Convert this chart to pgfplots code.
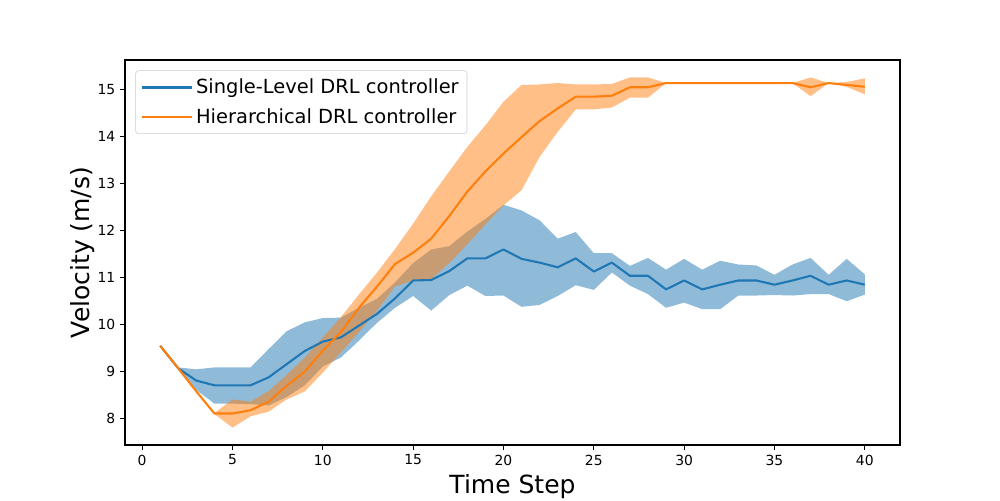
\documentclass[border=0pt]{standalone}
\usepackage{fontspec}
\setmainfont{DejaVu Sans}
\usepackage{pgfplots}
\usepackage{pgfplotstable}
\pgfplotsset{compat=1.18}
\definecolor{tabblue}{HTML}{1F77B4}
\definecolor{taborange}{HTML}{FF7F0E}
\pgfplotstableread{
t  bm    om
1  9.54  9.54
2  9.06  9.06
3  8.80  8.57
4  8.70  8.10
5  8.70  8.10
6  8.70  8.17
7  8.87  8.35
8  9.15  8.69
9  9.43  8.99
10 9.63  9.44
11 9.72  9.83
12 9.97  10.35
13 10.22 10.80
14 10.55 11.28
15 10.93 11.52
16 10.94 11.82
17 11.13 12.30
18 11.40 12.82
19 11.40 13.25
20 11.59 13.63
21 11.39 13.98
22 11.31 14.32
23 11.21 14.59
24 11.40 14.84
25 11.12 14.84
26 11.31 14.86
27 11.03 15.04
28 11.03 15.04
29 10.74 15.13
30 10.93 15.13
31 10.74 15.13
32 10.84 15.13
33 10.93 15.13
34 10.93 15.13
35 10.84 15.13
36 10.93 15.13
37 11.03 15.04
38 10.84 15.13
39 10.93 15.09
40 10.84 15.05
}\data
\begin{document}
\begin{tikzpicture}
\path[use as bounding box] (0,0) rectangle (720pt,360pt);
\begin{axis}[
  at={(90pt,39.6pt)}, anchor=south west,
  width=558pt, height=277.2pt, scale only axis,
  xmin=-0.95, xmax=41.95, ymin=7.43, ymax=15.62,
  xtick={0,5,...,40}, ytick={8,9,...,15},
  tick align=outside, tick pos=left, major tick length=3.5pt,
  every tick/.style={black, line width=0.8pt},
  axis line style={line width=0.8pt},
  tick label style={font=\fontsize{10}{12}\selectfont},
  /pgf/number format/assume math mode=true,
  xlabel={Time Step}, ylabel={Velocity (m/s)},
  label style={font=\fontsize{18}{21}\selectfont},
  ylabel style={yshift=-5pt},
  legend style={at={(0,1)}, anchor=north west, xshift=7.5pt, yshift=-7.5pt,
    draw=black!20, rounded corners=2pt, fill=white, fill opacity=0.8, text opacity=1,
    font=\fontsize{14}{16}\selectfont, inner xsep=4pt, inner ysep=4pt, row sep=5pt,
    cells={anchor=west}},
  legend image code/.code={\path (0pt,0pt) -- (36pt,0pt);\draw[#1, line width=1.5pt] (1pt,0pt) -- (29pt,0pt);},
]
% blue band: upper edge forward, lower edge backward
\addplot[fill=tabblue, fill opacity=0.5, draw=none, forget plot] coordinates {
(1,9.54) (2,9.08) (3,9.04) (4,9.08) (5,9.08) (6,9.08) (7,9.47) (8,9.85) (9,10.04) (10,10.13)
(11,10.14) (12,10.35) (13,10.54) (14,10.89) (15,11.30) (16,11.59) (17,11.66) (18,11.97) (19,12.24) (20,12.54)
(21,12.42) (22,12.21) (23,11.82) (24,11.96) (25,11.51) (26,11.51) (27,11.24) (28,11.41) (29,11.16) (30,11.39)
(31,11.16) (32,11.35) (33,11.27) (34,11.25) (35,11.05) (36,11.27) (37,11.41) (38,11.05) (39,11.39) (40,11.06)
(40,10.63) (39,10.49) (38,10.64) (37,10.64) (36,10.61) (35,10.62) (34,10.61) (33,10.61) (32,10.32) (31,10.32)
(30,10.46) (29,10.35) (28,10.64) (27,10.82) (26,11.10) (25,10.73) (24,10.83) (23,10.60) (22,10.41) (21,10.37)
(20,10.61) (19,10.60) (18,10.82) (17,10.62) (16,10.29) (15,10.60) (14,10.35) (13,10.03) (12,9.65) (11,9.29)
(10,9.10) (9,8.70) (8,8.45) (7,8.27) (6,8.30) (5,8.31) (4,8.31) (3,8.60) (2,9.03) (1,9.54)
};
% orange band
\addplot[fill=taborange, fill opacity=0.5, draw=none, forget plot] coordinates {
(1,9.54) (2,9.07) (3,8.59) (4,8.11) (5,8.40) (6,8.35) (7,8.58) (8,8.92) (9,9.29) (10,9.72)
(11,10.15) (12,10.63) (13,11.10) (14,11.60) (15,12.14) (16,12.72) (17,13.25) (18,13.77) (19,14.23) (20,14.73)
(21,15.09) (22,15.10) (23,15.13) (24,15.10) (25,15.10) (26,15.11) (27,15.25) (28,15.25) (29,15.13) (30,15.13)
(31,15.13) (32,15.13) (33,15.13) (34,15.13) (35,15.13) (36,15.13) (37,15.25) (38,15.13) (39,15.15) (40,15.23)
(40,14.89) (39,15.05) (38,15.13) (37,14.85) (36,15.13) (35,15.13) (34,15.13) (33,15.13) (32,15.13) (31,15.13)
(30,15.13) (29,15.13) (28,14.82) (27,14.82) (26,14.61) (25,14.57) (24,14.57) (23,14.09) (22,13.56) (21,12.85)
(20,12.53) (19,12.12) (18,11.70) (17,11.30) (16,10.96) (15,10.93) (14,10.80) (13,10.29) (12,9.83) (11,9.40)
(10,8.97) (9,8.57) (8,8.40) (7,8.14) (6,8.04) (5,7.80) (4,8.09) (3,8.55) (2,9.05) (1,9.54)
};
\addplot[tabblue, line width=1.5pt, line join=round] table[x=t, y=bm] {\data};
\addlegendentry{Single-Level DRL controller}
\addplot[taborange, line width=1.5pt, line join=round] table[x=t, y=om] {\data};
\addlegendentry{Hierarchical DRL controller}
\end{axis}
\end{tikzpicture}
\end{document}
